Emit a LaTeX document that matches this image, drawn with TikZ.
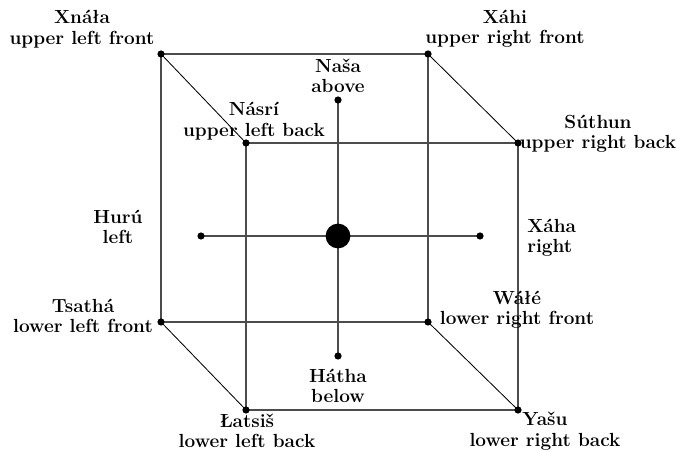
\documentclass[tikz,border=0pt]{standalone}
\usepackage{tikz}
\usetikzlibrary{backgrounds}

\tikzset{
  dot/.style={circle, fill=black, inner sep=0pt, minimum size=0.18cm},
  bigdot/.style={circle, fill=black, inner sep=0pt, minimum size=0.62cm},
  edge/.style={draw=black!70, line width=1.2pt},
  diag/.style={draw=black, line width=0.6pt},
  axis/.style={draw=black!70, line width=0.9pt},
  lbl/.style={align=center, font=\bfseries\fontsize{13.5}{14.5}\selectfont, inner sep=0pt}
}

\begin{document}
\begin{tikzpicture}[x=0.025cm, y=-0.025cm]
\useasboundingbox (0,0) rectangle (677,452);

% front square
\node[dot] (ulf) at (161,54) {};
\node[dot] (urf) at (428,54) {};
\node[dot] (lrf) at (428,322) {};
\node[dot] (llf) at (161,322) {};
% back square
\node[dot] (ulb) at (246,143) {};
\node[dot] (urb) at (518,143) {};
\node[dot] (lrb) at (518,410) {};
\node[dot] (llb) at (246,410) {};
% centre and the four directions
\node[bigdot] (mid) at (338,236) {};
\node[dot] (up) at (338,100) {};
\node[dot] (down) at (338,356) {};
\node[dot] (lt) at (201,236) {};
\node[dot] (rt) at (480,236) {};

\begin{scope}[on background layer]
\draw[edge] (ulf.center) -- (urf.center) -- (lrf.center) -- (llf.center) -- cycle;
\draw[edge] (ulb.center) -- (urb.center) -- (lrb.center) -- (llb.center) -- cycle;
\foreach \a/\b in {ulf/ulb, urf/urb, lrf/lrb, llf/llb}
  \draw[diag] (\a.center) -- (\b.center);
\draw[axis] (up.center) -- (down.center);
\draw[axis] (lt.center) -- (rt.center);
\end{scope}

% labels
\node[lbl] (tulf) at (82,29) {Xnáła\\upper left front};
\node[lbl] (turf) at (505,29) {Xáhi\\upper right front};
\node[lbl] (tulb) at (254,121) {Násrí\\upper left back};
\node[lbl] (turb) at (598,134) {Súthun\\upper right back};
\node[lbl] (tup) at (338,76) {Naša\\above};
\node[lbl] (tlt) at (118,227) {Hurú\\left};
\node[lbl, align=left, anchor=west] (trt) at (527,238) {Xáha\\right};
\node[lbl] (tllf) at (83,316) {Tsathá\\lower left front};
\node[lbl] (tlrf) at (517,310) {Wáłé\\lower right front};
\node[lbl] (tdown) at (338,386) {Hátha\\below};
\node[lbl] (tllb) at (247,431) {Łatsiš\\lower left back};
\node[lbl] (tlrb) at (545,431) {Yašu\\lower right back};
\end{tikzpicture}
\end{document}
